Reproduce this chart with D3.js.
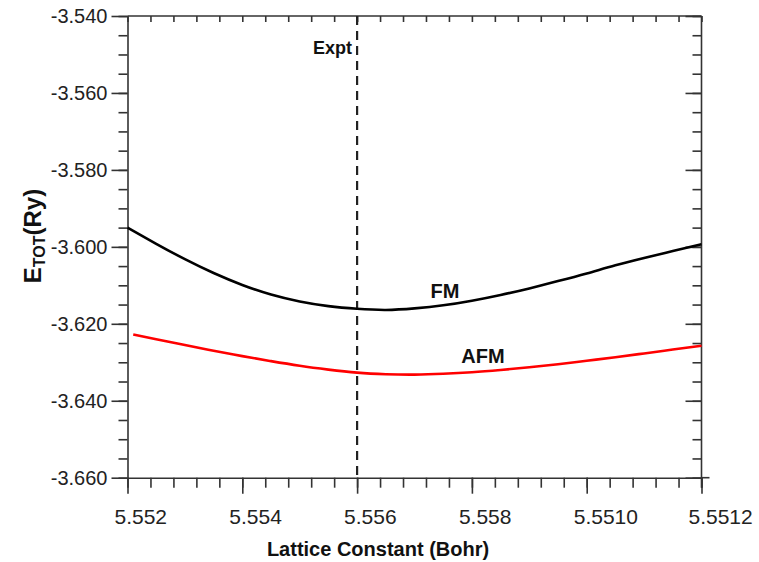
<!DOCTYPE html>
<html><head><meta charset="utf-8">
<script src="https://cdn.jsdelivr.net/npm/d3@7"></script>
<style>body{margin:0;background:#fff}svg{display:block}text{font-family:"Liberation Sans",Arial,sans-serif}</style>
</head><body><svg id="c" width="759" height="562"></svg>
<script>
const xTickValues = [5.552, 5.554, 5.556, 5.558, 5.560, 5.562];
const xTickLabels = ["5.552", "5.554", "5.556", "5.558", "5.5510", "5.5512"];
const yTickValues = [-3.540, -3.560, -3.580, -3.600, -3.620, -3.640, -3.660];
const yTickLabels = ["-3.540", "-3.560", "-3.580", "-3.600", "-3.620", "-3.640", "-3.660"];
const fmX = [5.552,5.5525,5.553,5.5535,5.554,5.5545,5.555,5.5555,5.556,5.5565,5.557,5.5575,5.558,5.5585,5.559,5.5595,5.560,5.5605,5.561,5.5615,5.562];
const fmE = [-3.5950,-3.5992,-3.6032,-3.6068,-3.6099,-3.6124,-3.6142,-3.6154,-3.6161,-3.6164,-3.6160,-3.6152,-3.6140,-3.6125,-3.6108,-3.6089,-3.6069,-3.6048,-3.6029,-3.6011,-3.5993];
const afmX = [5.5521,5.5525,5.553,5.5535,5.554,5.5545,5.555,5.5555,5.556,5.5565,5.557,5.5575,5.558,5.5585,5.559,5.5595,5.560,5.5605,5.561,5.5615,5.562];
const afmE = [-3.6228,-3.6240,-3.6255,-3.6270,-3.6284,-3.6297,-3.6309,-3.6319,-3.6327,-3.6331,-3.6332,-3.6330,-3.6326,-3.6320,-3.6313,-3.6305,-3.6296,-3.6287,-3.6277,-3.6267,-3.6257];
const exptX = 5.556;

const svg = d3.select("#c");
const L = 127.5, R = 701.5, T = 16, B = 477.7;
const x = d3.scaleLinear().domain([5.552, 5.562]).range([L, R]);
const y = d3.scaleLinear().domain([-3.660, -3.540]).range([B, T]);
const axisColor = "#333";

const xMinor = d3.range(0, 26).map(i => 5.552 + i * 0.0004);
const yMinor = d3.range(0, 25).map(i => -3.660 + i * 0.005);
const fmtX = d => xTickLabels[xTickValues.findIndex(v => Math.abs(v - d) < 1e-9)];
const fmtY = d => yTickLabels[yTickValues.findIndex(v => Math.abs(v - d) < 1e-9)];

function style(g) {
  g.selectAll("path.domain").attr("stroke", axisColor).attr("stroke-width", 1.6);
  g.selectAll(".tick line").attr("stroke", axisColor).attr("stroke-width", 1.6);
}
svg.append("g").attr("transform", `translate(0,${B})`)
  .call(d3.axisBottom(x).tickValues(xMinor).tickSize(10).tickFormat("")).call(style)
  .call(g => g.select(".domain").remove());
svg.append("g").attr("transform", `translate(${L},0)`)
  .call(d3.axisLeft(y).tickValues(yMinor).tickSize(9).tickFormat("")).call(style)
  .call(g => g.select(".domain").remove());
svg.append("g").attr("transform", `translate(0,${T})`)
  .call(d3.axisBottom(x).tickValues(xMinor).tickSize(6).tickFormat("")).call(style)
  .call(g => g.select(".domain").remove());
svg.append("g").attr("transform", `translate(${R},0)`)
  .call(d3.axisLeft(y).tickValues(yMinor).tickSize(9).tickFormat("")).call(style)
  .call(g => g.select(".domain").remove());
svg.append("g").attr("transform", `translate(${R},0)`)
  .call(d3.axisLeft(y).tickValues(yTickValues).tickSize(16).tickFormat("")).call(style)
  .call(g => g.select(".domain").remove());

const gx = svg.append("g").attr("transform", `translate(0,${B})`)
  .call(d3.axisBottom(x).tickValues(xTickValues).tickSize(16).tickSizeOuter(0).tickPadding(15).tickFormat(fmtX)).call(style);
gx.selectAll("text").attr("font-size", 21).attr("fill", "#222")
  .attr("text-anchor", "start").attr("x", -13.5);
const gy = svg.append("g").attr("transform", `translate(${L},0)`)
  .call(d3.axisLeft(y).tickValues(yTickValues).tickSize(16).tickSizeOuter(0).tickPadding(4).tickFormat(fmtY)).call(style);
gy.selectAll("text").attr("font-size", 20).attr("fill", "#222");
svg.append("line").attr("x1", L).attr("x2", R).attr("y1", T).attr("y2", T).attr("stroke", axisColor).attr("stroke-width", 1.6);
svg.append("line").attr("x1", R).attr("x2", R).attr("y1", T).attr("y2", B + 10).attr("stroke", axisColor).attr("stroke-width", 1.6);
svg.append("line").attr("x1", R).attr("x2", R + 8).attr("y1", B).attr("y2", B).attr("stroke", axisColor).attr("stroke-width", 1.6);

svg.append("line").attr("x1", x(exptX)).attr("x2", x(exptX)).attr("y1", T).attr("y2", B)
  .attr("stroke", "#222").attr("stroke-width", 2.2).attr("stroke-dasharray", "9,6");
svg.append("text").attr("x", x(exptX) - 5).attr("y", 54).attr("text-anchor", "end")
  .attr("font-size", 18).attr("font-weight", "bold").attr("fill", "#111").text("Expt");

const line = d3.line().x(d => x(d[0])).y(d => y(d[1])).curve(d3.curveNatural);
svg.append("path").datum(fmX.map((v, i) => [v, fmE[i]])).attr("d", line)
  .attr("fill", "none").attr("stroke", "#000").attr("stroke-width", 2.6);
svg.append("path").datum(afmX.map((v, i) => [v, afmE[i]])).attr("d", line)
  .attr("fill", "none").attr("stroke", "#ff0000").attr("stroke-width", 2.6);

svg.append("text").attr("x", 445).attr("y", 298).attr("text-anchor", "middle")
  .attr("font-size", 20).attr("font-weight", "bold").attr("fill", "#111").text("FM");
svg.append("text").attr("x", 483).attr("y", 363).attr("text-anchor", "middle")
  .attr("font-size", 20).attr("font-weight", "bold").attr("fill", "#111").text("AFM");

svg.append("text").attr("x", 378).attr("y", 556).attr("text-anchor", "middle")
  .attr("font-size", 20).attr("font-weight", "bold").attr("fill", "#111").text("Lattice Constant (Bohr)");

const yl = svg.append("text").attr("transform", "translate(41,236) rotate(-90)").attr("text-anchor", "middle")
  .attr("font-weight", "bold").attr("fill", "#111").attr("font-size", 24);
yl.append("tspan").text("E");
yl.append("tspan").attr("font-size", 16).attr("dy", 4).text("TOT");
yl.append("tspan").attr("dy", -4).text("(Ry)");
</script></body></html>
